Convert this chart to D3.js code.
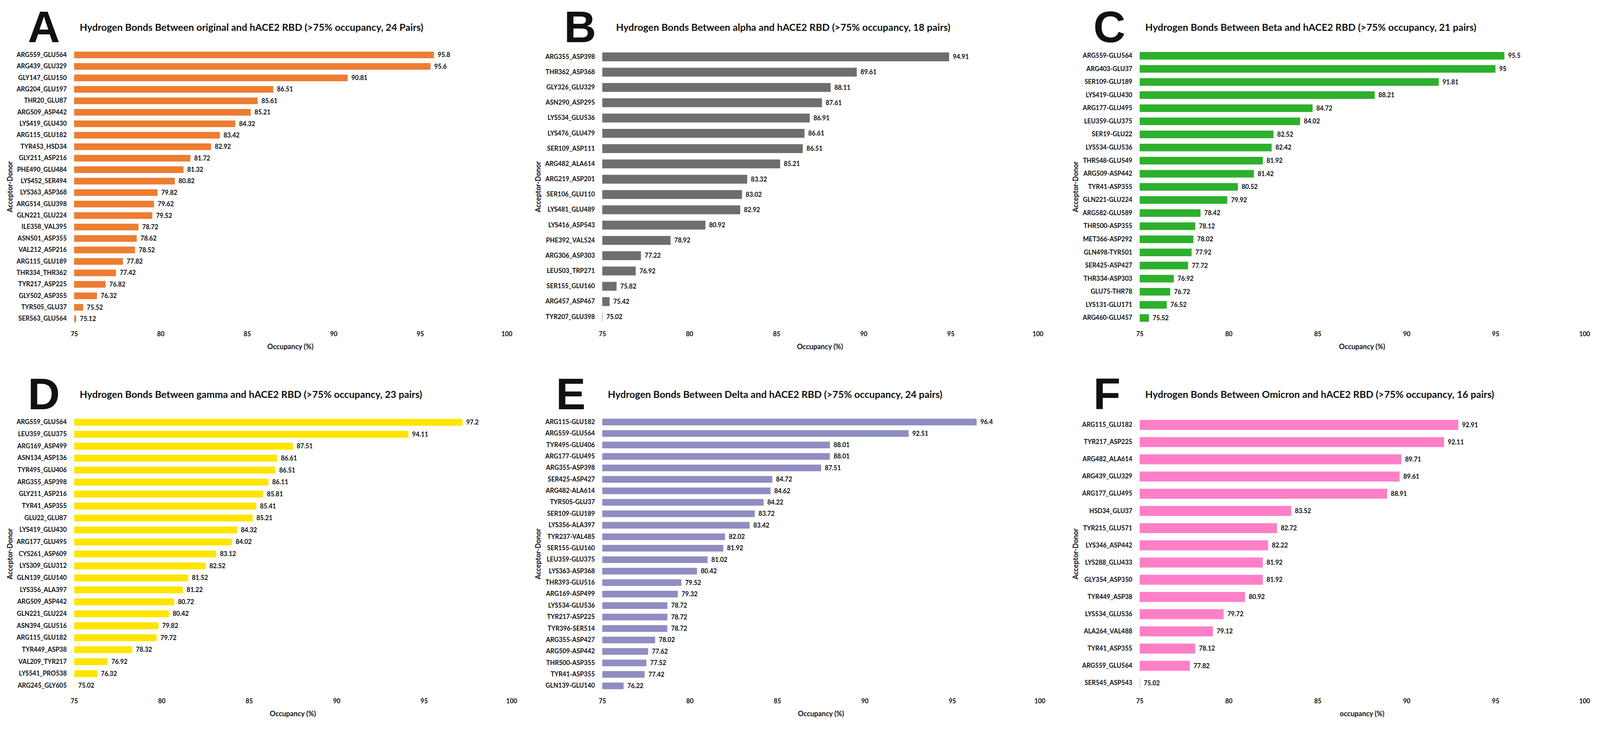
<!DOCTYPE html>
<html lang="en">
<head>
<meta charset="UTF-8">
<title>Hydrogen bonds</title>
<script src="https://d3js.org/d3.v7.min.js"></script>
<style>
  html, body { margin: 0; padding: 0; background: #fff; overflow: hidden; }
  svg { display: block; }
  text { font-family: Lato, "Open Sans", sans-serif; font-weight: bold; fill: #111; }
</style>
</head>
<body>
<div id="chart"></div>
<script>
// ---- data ----
const ticks = [75, 80, 85, 90, 95, 100];

const titlesArr = [
  "Hydrogen Bonds Between original and hACE2 RBD (>75% occupancy, 24 Pairs)",
  "Hydrogen Bonds Between alpha and hACE2 RBD (>75% occupancy, 18 pairs)",
  "Hydrogen Bonds Between Beta and hACE2 RBD (>75% occupancy, 21 pairs)",
  "Hydrogen Bonds Between gamma and hACE2 RBD (>75% occupancy, 23 pairs)",
  "Hydrogen Bonds Between Delta and hACE2 RBD (>75% occupancy, 24 pairs)",
  "Hydrogen Bonds Between Omicron and hACE2 RBD (>75% occupancy, 16 pairs)"
];
const letters = ["A", "B", "C", "D", "E", "F"];
const xTitles = ["Occupancy (%)", "Occupancy (%)", "Occupancy (%)", "Occupancy (%)", "Occupancy (%)", "occupancy (%)"];

const pairsA = ["ARG559_GLU564","ARG439_GLU329","GLY147_GLU150","ARG204_GLU197","THR20_GLU87","ARG509_ASP442",
  "LYS419_GLU430","ARG115_GLU182","TYR453_HSD34","GLY211_ASP216","PHE490_GLU484","LYS452_SER494",
  "LYS363_ASP368","ARG514_GLU398","GLN221_GLU224","ILE358_VAL395","ASN501_ASP355","VAL212_ASP216",
  "ARG115_GLU189","THR334_THR362","TYR217_ASP225","GLY502_ASP355","TYR505_GLU37","SER563_GLU564"];
const occA = [95.8,95.6,90.81,86.51,85.61,85.21,84.32,83.42,82.92,81.72,81.32,80.82,
  79.82,79.62,79.52,78.72,78.62,78.52,77.82,77.42,76.82,76.32,75.52,75.12];

const pairsB = ["ARG355_ASP398","THR362_ASP368","GLY326_GLU329","ASN290_ASP295","LYS534_GLU536","LYS476_GLU479",
  "SER109_ASP111","ARG482_ALA614","ARG219_ASP201","SER106_GLU110","LYS481_GLU489","LYS416_ASP543",
  "PHE392_VAL524","ARG306_ASP303","LEU503_TRP271","SER155_GLU160","ARG457_ASP467","TYR207_GLU398"];
const occB = [94.91,89.61,88.11,87.61,86.91,86.61,86.51,85.21,83.32,83.02,82.92,80.92,
  78.92,77.22,76.92,75.82,75.42,75.02];

const pairsC = ["ARG559-GLU564","ARG403-GLU37","SER109-GLU189","LYS419-GLU430","ARG177-GLU495","LEU359-GLU375",
  "SER19-GLU22","LYS534-GLU536","THR548-GLU549","ARG509-ASP442","TYR41-ASP355","GLN221-GLU224",
  "ARG582-GLU589","THR500-ASP355","MET366-ASP292","GLN498-TYR501","SER425-ASP427","THR334-ASP303",
  "GLU75-THR78","LYS131-GLU171","ARG460-GLU457"];
const occC = [95.5,95,91.81,88.21,84.72,84.02,82.52,82.42,81.92,81.42,80.52,79.92,
  78.42,78.12,78.02,77.92,77.72,76.92,76.72,76.52,75.52];

const pairsD = ["ARG559_GLU564","LEU359_GLU375","ARG169_ASP499","ASN134_ASP136","TYR495_GLU406","ARG355_ASP398",
  "GLY211_ASP216","TYR41_ASP355","GLU22_GLU87","LYS419_GLU430","ARG177_GLU495","CYS261_ASP609",
  "LYS309_GLU312","GLN139_GLU140","LYS356_ALA397","ARG509_ASP442","GLN221_GLU224","ASN394_GLU516",
  "ARG115_GLU182","TYR449_ASP38","VAL209_TYR217","LYS541_PRO538","ARG245_GLY605"];
const occD = [97.2,94.11,87.51,86.61,86.51,86.11,85.81,85.41,85.21,84.32,84.02,83.12,
  82.52,81.52,81.22,80.72,80.42,79.82,79.72,78.32,76.92,76.32,75.02];

const pairsE = ["ARG115-GLU182","ARG559-GLU564","TYR495-GLU406","ARG177-GLU495","ARG355-ASP398","SER425-ASP427",
  "ARG482-ALA614","TYR505-GLU37","SER109-GLU189","LYS356-ALA397","TYR237-VAL485","SER155-GLU160",
  "LEU359-GLU375","LYS363-ASP368","THR393-GLU516","ARG169-ASP499","LYS534-GLU536","TYR217-ASP225",
  "TYR396-SER514","ARG355-ASP427","ARG509-ASP442","THR500-ASP355","TYR41-ASP355","GLN139-GLU140"];
const occE = [96.4,92.51,88.01,88.01,87.51,84.72,84.62,84.22,83.72,83.42,82.02,81.92,
  81.02,80.42,79.52,79.32,78.72,78.72,78.72,78.02,77.62,77.52,77.42,76.22];

const pairsF = ["ARG115_GLU182","TYR217_ASP225","ARG482_ALA614","ARG439_GLU329","ARG177_GLU495","HSD34_GLU37",
  "TYR215_GLU571","LYS346_ASP442","LYS288_GLU433","GLY354_ASP350","TYR449_ASP38","LYS534_GLU536",
  "ALA264_VAL488","TYR41_ASP355","ARG559_GLU564","SER545_ASP543"];
const occF = [92.91,92.11,89.71,89.61,88.91,83.52,82.72,82.22,81.92,81.92,80.92,79.72,
  79.12,78.12,77.82,75.02];

const allPairs = [pairsA, pairsB, pairsC, pairsD, pairsE, pairsF];
const allOcc = [occA, occB, occC, occD, occE, occF];

// ---- layout (designed for 4317 x 1877, rescaled to the real viewport) ----
const W0 = 4317, H0 = 1877;
const w = window.innerWidth || W0;
const h = window.innerHeight || H0;
const sx = w / W0, sy = h / H0;
const fs = Math.min(sx, sy);   // font scale

const colors = ["#ED7D31", "#6E6E6E", "#2DB02D", "#FFE500", "#8F8DC1", "#FF7FC7"];
const rowTop = [0, 0, 0, 940, 940, 940];
const xStart = [200, 1625, 3075, 200, 1625, 3075];
const xEnd   = [1367, 2800, 4275, 1380, 2805, 4275];
const letterX = [75, 1522, 2950, 75, 1500, 2950];
const titleX = [215, 1662, 3090, 215, 1640, 3090];

const svg = d3.select("#chart")
  .append("svg")
  .attr("width", w)
  .attr("height", h);

svg.append("rect").attr("width", w).attr("height", h).attr("fill", "#fff");

for (let p = 0; p < 6; p++) {
  const g = svg.append("g").attr("transform", `translate(0, ${rowTop[p] * sy})`);
  const pairs = allPairs[p];
  const occ = allOcc[p];

  const xscale = d3.scaleLinear()
    .domain([75, 100])
    .range([xStart[p] * sx, xEnd[p] * sx]);
  const yscale = d3.scaleBand()
    .domain(pairs)
    .range([126 * sy, 831 * sy])
    .paddingInner(0.42)
    .paddingOuter(0.21);

  // big panel letter
  g.append("text")
    .attr("x", letterX[p] * sx)
    .attr("y", 108 * sy)
    .style("font-family", "'Liberation Sans', Arial, sans-serif")
    .style("font-size", 120 * fs + "px")
    .text(letters[p]);

  // title
  g.append("text")
    .attr("x", titleX[p] * sx)
    .attr("y", 79 * sy)
    .style("font-size", 26.5 * fs + "px")
    .text(titlesArr[p]);

  // bars
  g.selectAll("rect.bar")
    .data(occ)
    .enter()
    .append("rect")
    .attr("class", "bar")
    .attr("x", xscale(75))
    .attr("y", (d, i) => yscale(pairs[i]))
    .attr("width", d => xscale(d) - xscale(75))
    .attr("height", yscale.bandwidth())
    .attr("fill", colors[p]);

  // value labels
  g.selectAll("text.val")
    .data(occ)
    .enter()
    .append("text")
    .attr("class", "val")
    .attr("x", d => xscale(d) + 10 * sx)
    .attr("y", (d, i) => yscale(pairs[i]) + yscale.bandwidth() / 2)
    .attr("dy", "0.35em")
    .style("font-size", 17 * fs + "px")
    .text(d => d);

  // y axis (category labels)
  const Yaxis = d3.axisLeft(yscale).tickSize(0).tickPadding(20 * sx);
  const ya = g.append("g")
    .attr("transform", `translate(${xscale(75)}, 0)`)
    .call(Yaxis);
  ya.select(".domain").remove();
  ya.selectAll("text")
    .style("font-family", "Lato, sans-serif")
    .style("font-weight", "bold")
    .style("font-size", 17 * fs + "px")
    .attr("fill", "#111");

  // x axis
  const Xaxis = d3.axisBottom(xscale).tickValues(ticks).tickSize(0).tickPadding(0);
  const xa = g.append("g")
    .attr("transform", `translate(0, ${850 * sy})`)
    .call(Xaxis);
  xa.select(".domain").remove();
  xa.selectAll("text")
    .style("font-family", "Lato, sans-serif")
    .style("font-weight", "bold")
    .style("font-size", 17 * fs + "px")
    .attr("fill", "#111");

  // axis titles
  g.append("text")
    .attr("x", (xscale(75) + xscale(100)) / 2)
    .attr("y", 894 * sy)
    .attr("text-anchor", "middle")
    .style("font-size", 19 * fs + "px")
    .text(xTitles[p]);

  g.append("text")
    .attr("transform", `translate(${(xStart[p] - 166) * sx}, ${(126 + 831) / 2 * sy}) rotate(-90)`)
    .attr("text-anchor", "middle")
    .style("font-size", 19 * fs + "px")
    .text("Acceptor-Donor");
}
</script>
</body>
</html>
